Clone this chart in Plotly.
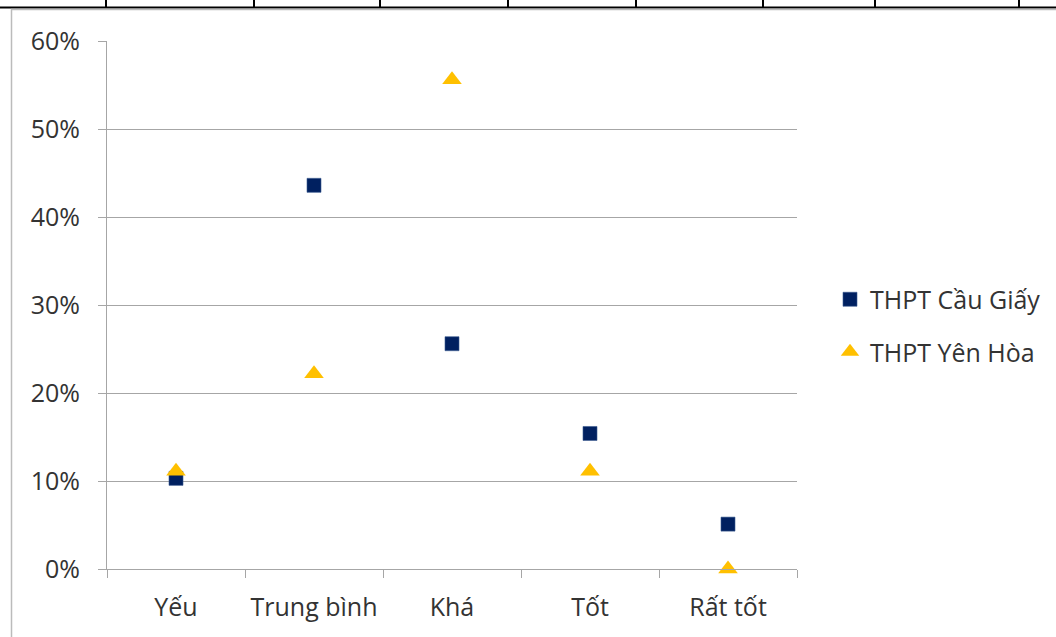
import plotly.graph_objects as go

# Category labels and shares for each school
categories = ["Yếu", "Trung bình", "Khá", "Tốt", "Rất tốt"]
cau_giay = [0.103, 0.436, 0.256, 0.154, 0.051]
yen_hoa = [0.111, 0.222, 0.556, 0.111, 0.0]
series_names = ["THPT Cầu Giấy", "THPT Yên Hòa"]

W, H = 1056, 637
ML, MR, MT, MB = 107, 259, 41, 68
PW, PH = W - ML - MR, H - MT - MB

FONT = "Open Sans"
TEXT = "#333333"
GRID = "#A6A6A6"
FS = 25


def px_x(px):
    return (px - ML) / PW


def px_y(py):
    return (H - MB - py) / PH


fig = go.Figure()
fig.add_trace(go.Scatter(
    x=categories, y=cau_giay, mode="markers", name=series_names[0],
    legendgroup="a", cliponaxis=False,
    marker=dict(symbol="square", size=14, color="#002060",
                line=dict(color="#3a5a90", width=0.6)),
))
fig.add_trace(go.Scatter(
    x=categories, y=yen_hoa, mode="markers", name=series_names[1],
    legendgroup="b", cliponaxis=False,
    marker=dict(symbol="triangle-up", size=17, color="#FFC000",
                line=dict(width=0)),
))

# Page frame around the chart object
frame = [
    dict(x0=px_x(0), x1=px_x(W), y0=px_y(7.5), y1=px_y(7.5), color="#000000", width=2),
    dict(x0=px_x(11), x1=px_x(W), y0=px_y(9.5), y1=px_y(9.5), color="#BBBBBB", width=1.5),
    dict(x0=px_x(11.5), x1=px_x(11.5), y0=px_y(9), y1=px_y(H), color="#BBBBBB", width=1.5),
]
for xv in [106, 254, 380, 508, 636, 763, 875, 1019]:
    frame.append(dict(x0=px_x(xv), x1=px_x(xv), y0=px_y(0), y1=px_y(7), color="#000000", width=2))
for f in frame:
    fig.add_shape(type="line", xref="paper", yref="paper",
                  x0=f["x0"], x1=f["x1"], y0=f["y0"], y1=f["y1"],
                  line=dict(color=f["color"], width=f["width"]))

fig.update_layout(
    width=W, height=H, autosize=False,
    margin=dict(l=ML, r=MR, t=MT, b=MB, pad=0),
    paper_bgcolor="white", plot_bgcolor="white",
    font=dict(family=FONT, size=FS, color=TEXT),
    showlegend=True,
    legend=dict(
        xref="container", yref="container",
        x=830 / W, y=(H - 325.5) / H, xanchor="left", yanchor="middle",
        font=dict(family=FONT, size=FS, color=TEXT),
        traceorder="grouped", tracegroupgap=17,
        bgcolor="rgba(0,0,0,0)", borderwidth=0,
    ),
    xaxis=dict(
        type="category", categoryorder="array", categoryarray=categories,
        range=[-0.5, 4.5], tickson="boundaries",
        ticks="outside", ticklen=8, tickcolor=GRID, tickwidth=1,
        showline=True, linecolor=GRID, linewidth=1,
        showgrid=False, zeroline=False,
        tickfont=dict(family=FONT, size=FS, color=TEXT),
        ticklabelstandoff=16,
    ),
    yaxis=dict(
        range=[0, 0.6], dtick=0.1, tick0=0, tickformat=".0%",
        ticks="outside", ticklen=8, tickcolor=GRID, tickwidth=1,
        showline=True, linecolor=GRID, linewidth=1,
        showgrid=True, gridcolor=GRID, gridwidth=1.2,
        zeroline=False,
        tickfont=dict(family=FONT, size=FS, color=TEXT),
        ticklabelstandoff=13,
    ),
)

fig.write_html("out.html")
